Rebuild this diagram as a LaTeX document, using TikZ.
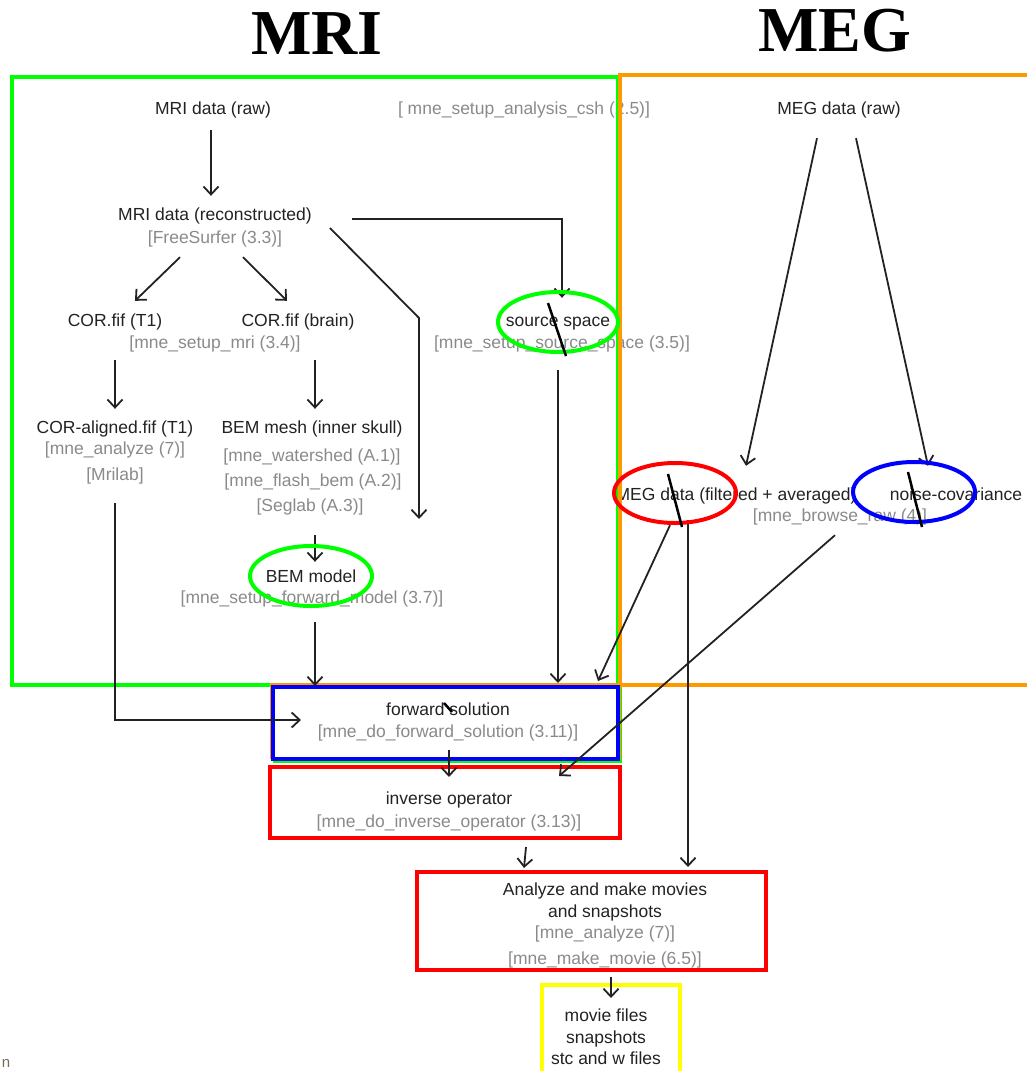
\documentclass[tikz,border=0pt]{standalone}
\usepackage{fontspec}
\setmainfont{Liberation Sans}
\newfontfamily\headfont{Liberation Serif}
\usetikzlibrary{calc,arrows.meta}
\definecolor{boxgreen}{HTML}{00FF00}
\definecolor{boxorange}{HTML}{FF9900}
\definecolor{boxblue}{HTML}{0000FF}
\definecolor{boxred}{HTML}{FF0000}
\definecolor{boxyellow}{HTML}{FFFF00}
\definecolor{toolgray}{HTML}{8A8A8A}
\definecolor{inkgray}{HTML}{222222}
\definecolor{straygray}{HTML}{7A6A5A}
\tikzset{
	lbl/.style={inner sep=0pt, text height=12pt, text depth=4pt, text=inkgray, font=\fontsize{17.5}{21}\selectfont},
	tool/.style={lbl, text=toolgray},
	flow/.style={draw=inkgray, line width=1.8pt, -{Straight Barb[length=8pt,width=15pt,line width=1.8pt]}},
	box/.style={draw, line width=4pt, inner sep=0pt},
	ring/.style={line width=4pt},
	slash/.style={draw=black, line width=2.5pt},
	title/.style={font=\headfont\bfseries\fontsize{64}{70}\selectfont},
}

\begin{document}
\begin{tikzpicture}[x=1pt, y=-1pt]
			%%%%% START %%%%%
			\useasboundingbox (0,0) rectangle (1026,1071);
			
			\node[title] (mrititle) at (317,34) {MRI};
			\node[title] (megtitle) at (835,31) {MEG};
			
			% MRI side
			\node[lbl] (raw) at (213,110) {MRI data (raw)};
			\node[lbl] (recon) at (215,216) {MRI data (reconstructed)};
			\node[tool] (fs) at (215,239) {[FreeSurfer (3.3)]};
			\node[lbl] (cort) at (115,322) {COR.fif (T1)};
			\node[lbl] (corb) at (298,322) {COR.fif (brain)};
			\node[tool] (setupmri) at (215,344) {[mne\_setup\_mri (3.4)]};
			\node[lbl] (align) at (115,429) {COR-aligned.fif (T1)};
			\node[tool] (anal) at (115,450) {[mne\_analyze (7)]};
			\node[tool] (mrilab) at (115,476) {[Mrilab]};
			\node[lbl] (mesh) at (312,429) {BEM mesh (inner skull)};
			\node[tool] (water) at (312,457) {[mne\_watershed (A.1)]};
			\node[tool] (flash) at (313,482) {[mne\_flash\_bem (A.2)]};
			\node[tool] (seglab) at (310,507) {[Seglab (A.3)]};
			\node[lbl] (bem) at (311,578) {BEM model};
			\node[tool] (fwdmodel) at (312,599) {[mne\_setup\_forward\_model (3.7)]};
			\node[tool] (csh) at (524,110) {[ mne\_setup\_analysis\_csh (2.5)]};
			\node[lbl] (src) at (558,322) {source space};
			\node[tool] (setupsrc) at (562,344) {[mne\_setup\_source\_space (3.5)]};
			
			% MEG side
			\node[lbl] (megraw) at (839,110) {MEG data (raw)};
			\node[lbl] (megfilt) at (736,496) {MEG data (filtered + averaged)};
			\node[lbl] (noise) at (956,496) {noise-covariance};
			\node[tool] (browse) at (840,517) {[mne\_browse\_raw (4)]};
			
			% lower part
			\node[lbl] (fwdtxt) at (448,711) {forward solution};
			\node[tool] (fwdtool) at (448,733) {[mne\_do\_forward\_solution (3.11)]};
			\node[lbl] (invtxt) at (449,800) {inverse operator};
			\node[tool] (invtool) at (449,823) {[mne\_do\_inverse\_operator (3.13)]};
			\node[lbl] (anatxt) at (605,891) {Analyze and make movies};
			\node[lbl] (anatxtb) at (605,913) {and snapshots};
			\node[tool] (anatool) at (605,934) {[mne\_analyze (7)]};
			\node[tool] (movietool) at (605,960) {[mne\_make\_movie (6.5)]};
			\node[lbl] (outa) at (606,1017) {movie files};
			\node[lbl] (outb) at (606,1039) {snapshots};
			\node[lbl] (outc) at (606,1060) {stc and w files};
			\node[lbl, text=straygray, font=\fontsize{15}{17}\selectfont] (stray) at (6,1063) {n};
			
			% group frames
			\draw[line width=4pt, boxgreen] (12,77) rectangle (618,685);
			\draw[line width=4pt, boxorange] (620,75) rectangle (1032,685);
			
			\draw[line width=1.5pt, boxgreen] (274,688) rectangle (621,762);
			\draw[line width=1.5pt, boxorange] (271,684) rectangle (620,758);
			\node[box, draw=boxblue, minimum width=345pt, minimum height=72pt] (fwdbox) at (445.5,723) {};
			\draw[line width=1.2pt, boxblue] (269,766) rectangle (619,839);
			\node[box, draw=boxred, minimum width=350pt, minimum height=71pt] (invbox) at (445,802.5) {};
			\node[box, draw=boxred, minimum width=349pt, minimum height=98pt] (anabox) at (591.5,921) {};
			\node[box, draw=boxyellow, minimum width=138pt, minimum height=95pt] (outbox) at (611,1032.5) {};
			
			\coordinate (bend) at (419,318);
			\coordinate (dangle) at (419,519);
			
			% connectors
			\draw[flow] ($(raw.south)+(-2,12)$) -- ($(recon.north)+(-4,-12)$);
			\draw[flow] ($(fs.south)+(-35,10)$) -- ($(cort.north)+(20,-13)$);
			\draw[flow] ($(fs.south)+(28,10)$) -- ($(corb.north)+(-11,-13)$);
			\draw[flow] ($(cort.south)+(0,30)$) -- ($(align.north)+(0,-12)$);
			\draw[flow] ($(corb.south)+(17,30)$) -- ($(mesh.north)+(3,-12)$);
			\draw[flow] ($(seglab.south)+(5,20)$) -- ($(bem.north)+(4,-8)$);
			\draw[flow] ($(fwdmodel.south)+(3,15)$) -- ($(fwdmodel.south |- fwdbox.north)+(3,1)$);
			\draw[flow] ($(mrilab.south)+(0,19)$) |- ($(fwdbox.west)+(30,-3)$);
			\draw[flow] ($(recon.east)+(18,12)$) -- (bend) -- (dangle);
			\draw[flow] ($(recon.east)+(40,3)$) -| ($(src.north)+(4,-16)$);
			\draw[flow] ($(setupsrc.south)+(-4,18)$) -- ($(setupsrc.south |- fwdbox.north)+(-4,-2)$);
			
			\draw[flow] ($(megraw.south)+(-22,20)$) -- ($(megfilt.north)+(10,-22)$);
			\draw[flow] ($(megraw.south)+(17,20)$) -- ($(noise.north)+(-28,-22)$);
			\draw[flow] ($(megfilt.south)+(-66,21)$) -- ($(fwdbox.north east)+(-22,-4)$);
			\draw[flow] ($(megfilt.south)+(-48,16)$) -- ($(megfilt.south |- anabox.north)+(-48,-3)$);
			\draw[flow] ($(browse.south)+(-5,10)$) -- ($(invbox.north east)+(-63,11)$);
			
			\draw[flow] ($(fwdbox.south)+(3.5,-11)$) -- ($(invbox.north)+(4,12)$);
			\draw[flow] ($(invbox.south)+(81,7)$) -- ($(anabox.north west)+(109,-2)$);
			\draw[flow] ($(anabox.south -| outbox.north)+(0,5)$) -- ($(outbox.north)+(0,15)$);
			
			% marks
			\draw[ring, boxgreen] ($(bem)+(0,-2)$) ellipse [x radius=61pt, y radius=30pt];
			\draw[ring, boxgreen] (src) ellipse [x radius=60pt, y radius=30pt];
			\draw[ring, boxred] (675,493) ellipse [x radius=61pt, y radius=30pt];
			\draw[ring, boxblue] (914,492) ellipse [x radius=61pt, y radius=30pt];
			
			\draw[slash] ($(src)+(-10,-19)$) -- ($(src)+(8,34)$);
			\draw[slash] (668,474) -- (682,527);
			\draw[slash] (908,472) -- (922,527);
			\draw[slash] (444,703) -- (452,712);
			
			%%%%% END %%%%%
\end{tikzpicture}
\end{document}
